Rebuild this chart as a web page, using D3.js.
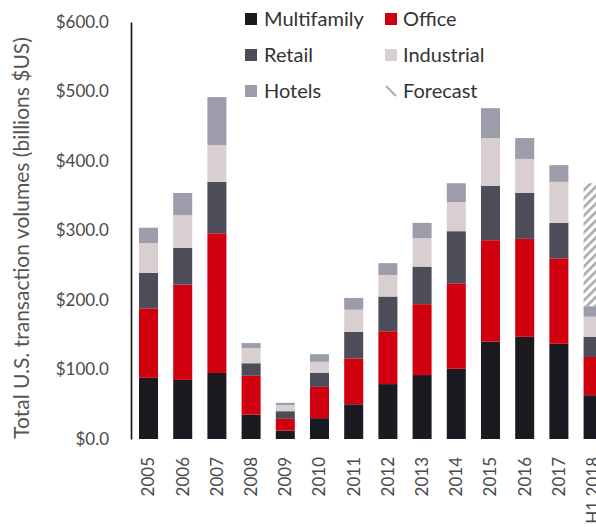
<!DOCTYPE html>
<html>
<head>
<meta charset="utf-8">
<script src="https://cdn.jsdelivr.net/npm/d3@7"></script>
<style>
  body { margin: 0; background: #fff; }
  svg { font-family: Lato, "Open Sans", sans-serif; }
</style>
</head>
<body>
<div id="chart"></div>
<script>
// values in billions $US
const years = ["2005", "2006", "2007", "2008", "2009", "2010", "2011", "2012",
               "2013", "2014", "2015", "2016", "2017", "H1 2018"];
const multifamily = [88, 85, 95, 35, 12, 30, 50, 79, 92, 101, 140, 147, 137, 63];
const office      = [100, 137, 201, 56, 17, 45, 66, 76, 102, 123, 146, 141, 123, 55];
const retail      = [51, 53, 74, 18, 11, 20, 38, 50, 54, 75, 78, 66, 51, 29];
const industrial  = [43, 47, 53, 22, 9, 16, 32, 31, 41, 42, 69, 49, 59, 29];
const hotels      = [22, 32, 69, 7, 3, 11, 17, 17, 22, 27, 43, 30, 24, 15];
const forecast    = [0, 0, 0, 0, 0, 0, 0, 0, 0, 0, 0, 0, 0, 177];
const yTicks = [0, 100, 200, 300, 400, 500, 600];

const seriesNames = ["Multifamily", "Office", "Retail", "Industrial", "Hotels"];
const colors = {
  Multifamily: "#1b1a20",
  Office: "#d0000f",
  Retail: "#4d4c59",
  Industrial: "#dacfd0",
  Hotels: "#9c9caa"
};

const width = 596, height = 527;

const table = years.map((yr, i) => ({
  year: yr,
  Multifamily: multifamily[i],
  Office: office[i],
  Retail: retail[i],
  Industrial: industrial[i],
  Hotels: hotels[i],
  Forecast: forecast[i]
}));

const svg = d3.select("#chart").append("svg")
  .attr("width", width).attr("height", height);

// hatch for the forecast
const defs = svg.append("defs");
defs.append("pattern")
    .attr("id", "hatch")
    .attr("patternUnits", "userSpaceOnUse")
    .attr("width", 6).attr("height", 6)
    .attr("patternTransform", "rotate(45)")
  .append("rect")
    .attr("x", 0).attr("y", 0)
    .attr("width", 2.6).attr("height", 6)
    .attr("fill", "#a9a9ad");

const x = d3.scaleBand()
  .domain(years)
  .range([131, 610.6])
  .paddingInner(0.444)
  .paddingOuter(0.234);

const y = d3.scaleLinear()
  .domain([0, 600])
  .range([439, 22]);

const stack = d3.stack().keys(seriesNames.concat(["Forecast"]));
const layers = stack(table);

svg.append("g")
  .selectAll("g")
  .data(layers)
  .join("g")
    .attr("fill", d => d.key == "Forecast" ? "url(#hatch)" : colors[d.key])
  .selectAll("rect")
  .data(d => d)
  .join("rect")
    .attr("x", d => x(d.data.year))
    .attr("y", d => y(d[1]))
    .attr("height", d => y(d[0]) - y(d[1]))
    .attr("width", x.bandwidth());

// y axis
svg.append("g")
  .attr("transform", "translate(131,0)")
  .call(d3.axisLeft(y).tickValues(yTicks).tickSize(0).tickPadding(22)
          .tickFormat(d => "$" + d.toFixed(1)))
  .call(g => g.select(".domain").attr("stroke", "#111").attr("stroke-width", 1.6))
  .call(g => g.selectAll("text")
      .style("font-size", "17px")
      .style("font-family", "Lato, sans-serif")
      .attr("fill", "#4a4a4a"));

// x labels, rotated
svg.append("g")
  .selectAll("text")
  .data(years)
  .join("text")
    .attr("transform", d => `translate(${x(d) + x.bandwidth() / 2},457) rotate(-90)`)
    .attr("dy", "0.35em")
    .attr("text-anchor", "end")
    .style("font-size", "17px")
    .attr("fill", "#4a4a4a")
    .text(d => d);

// y axis title
svg.append("text")
  .attr("transform", "translate(22,238) rotate(-90)")
  .attr("dy", "0.35em")
  .attr("text-anchor", "middle")
  .style("font-size", "21px")
  .attr("fill", "#555")
  .text("Total U.S. transaction volumes (billions $US)");

// legend
const legendItems = [
  {name: "Multifamily", col: 0, row: 0},
  {name: "Office", col: 1, row: 0},
  {name: "Retail", col: 0, row: 1},
  {name: "Industrial", col: 1, row: 1},
  {name: "Hotels", col: 0, row: 2},
  {name: "Forecast", col: 1, row: 2}
];
const legend = svg.append("g")
  .selectAll("g")
  .data(legendItems)
  .join("g")
    .attr("transform", d => `translate(${245 + d.col * 140},${19 + d.row * 36})`);

legend.filter(d => d.name != "Forecast")
  .append("rect")
    .attr("x", 0).attr("y", -6)
    .attr("width", 12).attr("height", 12)
    .attr("fill", d => colors[d.name]);

legend.filter(d => d.name == "Forecast")
  .append("line")
    .attr("x1", 1).attr("y1", -5)
    .attr("x2", 11).attr("y2", 5)
    .attr("stroke", "#aaa")
    .attr("stroke-width", 2);

legend.append("text")
  .attr("x", d => d.col == 0 ? 19 : 18)
  .attr("dy", "0.35em")
  .style("font-size", "20px")
  .attr("fill", "#333")
  .text(d => d.name);
</script>
</body>
</html>
